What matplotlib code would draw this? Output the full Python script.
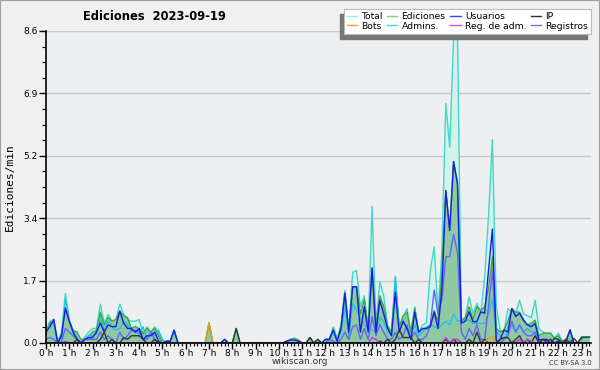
import matplotlib
matplotlib.use("Agg")
import matplotlib.pyplot as plt
from matplotlib.patches import Rectangle
from matplotlib.lines import Line2D
from matplotlib.ticker import MultipleLocator, FixedLocator
import numpy as np

# 10 minute steps, one row per hour
total = [
    0.35, 0.6, 0.65, 0.05, 0.3, 1.37,
    0.65, 0.35, 0.12, 0.0, 0.17, 0.3,
    0.4, 0.4, 1.07, 0.55, 0.79, 0.6,
    0.65, 1.07, 0.8, 0.65, 0.6, 0.6,
    0.65, 0.25, 0.45, 0.3, 0.45, 0.3,
    0.0, 0.05, 0.05, 0.36, 0.0, 0.0,
    0, 0, 0, 0, 0, 0,
    0.55, 0, 0, 0, 0.1, 0,
    0, 0.4, 0, 0, 0, 0,
    0, 0, 0, 0, 0, 0,
    0, 0, 0.05, 0.1, 0.13, 0.08,
    0, 0, 0.15, 0, 0.1, 0,
    0.1, 0.1, 0.45, 0.1, 0.5, 1.45,
    0.36, 1.95, 2.0, 1.0, 1.3, 0.4,
    3.77, 0.5, 1.69, 1.3, 0.5, 0.3,
    1.85, 0.45, 0.7, 0.95, 0.3, 1.0,
    0.3, 0.5, 0.55, 2.0, 2.65, 0.8,
    2.6, 6.6, 5.4, 8.4, 8.6, 0.65,
    0.7, 1.27, 0.8, 1.1, 0.8, 1.8,
    3.5, 5.6, 1.0, 0.36, 0.3, 0.95,
    0.85, 0.8, 1.18, 0.8, 0.75, 0.7,
    1.18, 0.4, 0.3, 0.27, 0.27, 0.13,
    0.27, 0.05, 0.1, 0.36, 0.0, 0.0,
    0.16, 0.16, 0.16,
]
ediciones = [
    0.3, 0.55, 0.6, 0.0, 0.25, 0.96,
    0.6, 0.35, 0.3, 0.1, 0.1, 0.2,
    0.3, 0.35, 0.85, 0.5, 0.7, 0.6,
    0.65, 0.88, 0.75, 0.7, 0.4, 0.45,
    0.4, 0.25, 0.4, 0.3, 0.4, 0.2,
    0.0, 0.05, 0.05, 0.35, 0.0, 0.0,
    0, 0, 0, 0, 0, 0,
    0.55, 0, 0, 0, 0.1, 0,
    0, 0.4, 0, 0, 0, 0,
    0, 0, 0, 0, 0, 0,
    0, 0, 0.05, 0.1, 0.13, 0.08,
    0, 0, 0.15, 0, 0.1, 0,
    0.1, 0.1, 0.4, 0.1, 0.45, 1.4,
    0.3, 1.55, 1.55, 0.8, 1.2, 0.35,
    2.07, 0.45, 1.3, 1.0, 0.45, 0.3,
    1.6, 0.45, 0.75, 0.85, 0.3, 0.95,
    0.3, 0.4, 0.4, 0.45, 0.9, 0.6,
    2.0, 4.2, 3.1, 5.0, 4.4, 0.6,
    0.7, 1.0, 0.65, 1.0, 0.9, 1.0,
    1.5, 2.38, 0.4, 0.3, 0.36, 0.6,
    0.95, 0.85, 0.85, 0.65, 0.5, 0.55,
    0.63, 0.2, 0.27, 0.27, 0.27, 0.13,
    0.2, 0.05, 0.1, 0.36, 0.0, 0.0,
    0.16, 0.16, 0.16,
]
usuarios = [
    0.3, 0.45, 0.65, 0.0, 0.2, 0.96,
    0.6, 0.3, 0.1, 0.0, 0.1, 0.15,
    0.15, 0.3, 0.55, 0.3, 0.5, 0.45,
    0.45, 0.88, 0.55, 0.4, 0.4, 0.3,
    0.4, 0.1, 0.2, 0.2, 0.3, 0.05,
    0.0, 0.05, 0.05, 0.35, 0.0, 0.0,
    0, 0, 0, 0, 0, 0,
    0, 0, 0, 0, 0.1, 0,
    0, 0, 0, 0, 0, 0,
    0, 0, 0, 0, 0, 0,
    0, 0, 0.05, 0.08, 0.08, 0.05,
    0, 0, 0, 0, 0, 0,
    0.1, 0.1, 0.35, 0.05, 0.4, 1.37,
    0.3, 1.55, 1.55, 0.3, 1.0, 0.3,
    2.07, 0.3, 1.18, 0.8, 0.4, 0.2,
    1.4, 0.3, 0.6, 0.4, 0.1, 0.85,
    0.3, 0.4, 0.4, 0.45, 0.85, 0.4,
    1.5, 4.2, 3.1, 5.0, 4.4, 0.55,
    0.6, 0.86, 0.59, 0.59, 0.86, 0.82,
    2.0, 3.14, 0.0, 0.1, 0.36, 0.3,
    0.95, 0.73, 0.82, 0.63, 0.5, 0.45,
    0.54, 0.08, 0.1, 0.05, 0.1, 0.0,
    0.05, 0.0, 0.05, 0.36, 0.0, 0.0,
    0, 0, 0,
]
ip = [
    0, 0, 0, 0, 0, 0,
    0, 0, 0.1, 0, 0, 0,
    0, 0, 0.1, 0.3, 0, 0.1,
    0, 0, 0.15, 0.1, 0.2, 0.2,
    0.2, 0.1, 0, 0, 0.1, 0,
    0, 0, 0, 0, 0, 0,
    0, 0, 0, 0, 0, 0,
    0, 0, 0, 0, 0, 0,
    0, 0.4, 0, 0, 0, 0,
    0, 0, 0, 0, 0, 0,
    0, 0, 0, 0, 0, 0,
    0, 0, 0.15, 0, 0.1, 0,
    0, 0, 0, 0, 0, 0,
    0, 0, 0, 0, 0, 0,
    0, 0, 0.05, 0, 0.1, 0,
    0.1, 0.36, 0.15, 0.15, 0.15, 0,
    0.1, 0, 0, 0, 0, 0,
    0, 0.1, 0, 0.1, 0, 0,
    0, 0.1, 0, 0.3, 0, 0.1,
    0, 0, 0, 0.1, 0.15, 0.15,
    0, 0.1, 0.2, 0, 0.1, 0,
    0.2, 0, 0.1, 0.1, 0, 0.13,
    0.1, 0, 0.1, 0, 0.13, 0,
    0.16, 0.16, 0.16,
]
bots = [
    0, 0, 0, 0, 0, 0,
    0, 0, 0, 0, 0, 0,
    0, 0, 0, 0, 0, 0,
    0, 0, 0, 0, 0, 0,
    0, 0, 0, 0, 0, 0,
    0, 0, 0, 0, 0, 0,
    0, 0, 0, 0, 0, 0,
    0.55, 0, 0, 0, 0, 0,
    0, 0, 0, 0, 0, 0,
    0, 0, 0, 0, 0, 0,
    0, 0, 0, 0, 0, 0,
    0, 0, 0, 0, 0, 0,
    0, 0, 0, 0, 0, 0,
    0, 0, 0, 0, 0, 0,
    0, 0, 0, 0, 0, 0,
    0, 0, 0, 0, 0, 0,
    0, 0, 0, 0, 0, 0,
    0, 0, 0, 0, 0, 0,
    0, 0, 0, 0, 0, 0,
    0.15, 0.15, 0, 0, 0, 0,
    0, 0, 0, 0, 0, 0,
    0, 0, 0, 0, 0, 0,
    0, 0, 0, 0, 0, 0,
    0, 0, 0,
]
admins = [
    0.3, 0.5, 0.55, 0.0, 0.2, 1.2,
    0.6, 0.3, 0.1, 0.0, 0.1, 0.2,
    0.2, 0.25, 0.7, 0.35, 0.6, 0.45,
    0.35, 0.4, 0.6, 0.5, 0.35, 0.3,
    0.25, 0.45, 0.1, 0.3, 0.2, 0.35,
    0.1, 0.0, 0.05, 0.35, 0.0, 0.0,
    0, 0, 0, 0, 0, 0,
    0, 0, 0, 0, 0, 0,
    0, 0, 0, 0, 0, 0,
    0, 0, 0, 0, 0, 0,
    0, 0, 0, 0, 0, 0,
    0, 0, 0, 0, 0, 0,
    0, 0, 0.4, 0.1, 0.3, 1.0,
    0.2, 1.09, 0.9, 0.7, 0.5, 0.4,
    0.36, 0.3, 0.7, 0.6, 0.3, 0.2,
    1.8, 0.3, 0.6, 0.4, 0.3, 0.5,
    0.2, 0.3, 0.45, 0.5, 0.45, 0.4,
    0.5, 0.6, 0.5, 0.8, 0.6, 0.63,
    0.63, 0.63, 0.54, 0.54, 0.54, 0.54,
    0.8, 1.2, 0.3, 0.2, 0.1, 0.3,
    0.5, 0.3, 0.5, 0.3, 0.4, 0.3,
    0.3, 0.1, 0.0, 0.0, 0.0, 0.0,
    0.1, 0, 0, 0.1, 0, 0,
    0.1, 0.16, 0.16,
]
reg_adm = [
    0, 0, 0, 0, 0, 0.05,
    0, 0, 0, 0, 0, 0,
    0, 0, 0, 0, 0, 0,
    0, 0, 0, 0, 0, 0,
    0, 0, 0, 0, 0, 0,
    0, 0, 0, 0, 0, 0,
    0, 0, 0, 0, 0, 0,
    0, 0, 0, 0, 0, 0,
    0, 0, 0, 0, 0, 0,
    0, 0, 0, 0, 0, 0,
    0, 0, 0, 0, 0, 0,
    0, 0, 0, 0, 0, 0,
    0, 0, 0, 0, 0, 0,
    0, 0, 0, 0, 0, 0,
    0.15, 0.1, 0, 0, 0, 0,
    0, 0, 0, 0, 0, 0,
    0, 0, 0, 0, 0, 0,
    0, 0.15, 0, 0.1, 0.1, 0,
    0, 0, 0, 0, 0, 0,
    0, 0, 0, 0, 0, 0,
    0, 0, 0.1, 0, 0.1, 0.05,
    0, 0, 0, 0, 0, 0,
    0, 0, 0, 0, 0, 0,
    0, 0, 0,
]
registros = [
    0.1, 0.15, 0.1, 0.0, 0.05, 0.4,
    0.3, 0.2, 0.1, 0.0, 0.1, 0.1,
    0.1, 0.1, 0.3, 0.1, 0.2, 0.1,
    0.0, 0.3, 0.1, 0.2, 0.35, 0.35,
    0.3, 0.1, 0.1, 0.3, 0.1, 0.0,
    0, 0, 0, 0, 0, 0,
    0, 0, 0, 0, 0, 0,
    0, 0, 0, 0, 0, 0,
    0, 0, 0, 0, 0, 0,
    0, 0, 0, 0, 0, 0,
    0, 0, 0, 0, 0, 0,
    0, 0, 0, 0, 0, 0,
    0, 0.1, 0.05, 0.0, 0.1, 0.3,
    0.1, 0.45, 0.5, 0.1, 0.4, 0.1,
    0.72, 0.2, 0.5, 0.3, 0.1, 0.1,
    0.3, 0.1, 0.2, 0.5, 0.1, 0.3,
    0.1, 0.1, 0.2, 0.5, 1.46, 0.8,
    1.2, 2.38, 2.38, 3.0, 2.5, 0.3,
    0.1, 0.4, 0.2, 0.5, 0.1, 0.1,
    1.0, 2.0, 0.1, 0.0, 0.1, 0.2,
    0.6, 0.3, 0.5, 0.3, 0.2, 0.2,
    0.3, 0.0, 0.1, 0.0, 0.0, 0.0,
    0, 0, 0, 0, 0, 0,
    0, 0, 0,
]

hour_labels = [f"{h} h" for h in range(24)]
y_ticks = [0.0, 1.72, 3.44, 5.16, 6.88, 8.6]
y_labels = ["0.0", "1.7", "3.4", "5.2", "6.9", "8.6"]

t = np.arange(len(total)) / 6.0

fig = plt.figure(figsize=(6, 3.7), dpi=100, facecolor="#f0f0f0")
fig.patches.append(Rectangle((0, 0), 1, 1, transform=fig.transFigure,
                             fill=False, edgecolor="#a0a0a0", lw=1.5))
ax = fig.add_axes([46 / 600, 27 / 370, 545 / 600, 312 / 370])
ax.set_facecolor("#eeeff1")

ax.fill_between(t, total, color="#d2f2ea", lw=0)
ax.fill_between(t, ediciones, color="#82c294", alpha=0.85, lw=0)

lw = 1.0
ax.plot(t, total, color="#40d8c8", lw=lw)
ax.plot(t, ediciones, color="#3caa3c", lw=lw)
ax.plot(t, admins, color="#22c0e8", lw=lw)
ax.plot(t, registros, color="#6464ff", lw=lw)
ax.plot(t, usuarios, color="#1a1ae6", lw=lw)
ax.plot(t, ip, color="#333333", lw=lw)
ax.plot(t, bots, color="#f09a10", lw=lw)
ax.plot(t, reg_adm, color="#cc33ee", lw=lw)

ax.set_xlim(0, 23.4)
ax.set_ylim(0, 8.6)
ax.xaxis.set_major_locator(FixedLocator(range(24)))
ax.set_xticklabels(hour_labels, fontsize=6.5)
ax.xaxis.set_minor_locator(MultipleLocator(1 / 6))
ax.set_yticks(y_ticks)
ax.set_yticklabels(y_labels, fontsize=6.5)
ax.yaxis.set_minor_locator(MultipleLocator(0.43))
ax.tick_params(axis="x", which="major", length=4, width=1, pad=0.5)
ax.tick_params(axis="x", which="minor", length=2.5, width=0.8)
ax.tick_params(axis="y", which="major", length=5, width=1, pad=1)
ax.tick_params(axis="y", which="minor", length=3, width=0.8)
ax.grid(axis="y", color="#c8c8c8", lw=1)
ax.set_axisbelow(True)
for s in ["top", "right"]:
    ax.spines[s].set_visible(False)
for s in ["left", "bottom"]:
    ax.spines[s].set_linewidth(1.2)

ax.set_ylabel("Ediciones/min", fontsize=8, family="DejaVu Sans Mono", labelpad=6)
fig.text(154 / 600, 1 - 17 / 370, "Ediciones  2023-09-19", ha="center", va="center",
         fontsize=8.3, fontweight="bold")
fig.text(300 / 600, 1 - 362 / 370, "wikiscan.org", ha="center", va="center",
         fontsize=6.5, color="#333333")
fig.text(592 / 600, 1 - 363 / 370, "CC BY-SA 3.0", ha="right", va="center",
         fontsize=4.8, color="#333333")

order = ["Total", "Bots", "Ediciones", "Admins.", "Usuarios", "Reg. de adm.", "IP", "Registros"]
leg_colors = {"Total": "#a0ecec", "Ediciones": "#77d077", "Usuarios": "#4040ff", "IP": "#333333",
              "Bots": "#ffa020", "Admins.": "#40d8f0", "Reg. de adm.": "#dd44ff", "Registros": "#7070ff"}
leg_handles = [Line2D([], [], color=leg_colors[k], lw=1) for k in order]
leg = fig.legend(leg_handles, order, ncol=4, loc="upper right",
                 bbox_to_anchor=(591 / 600, 1 - 9 / 370), fontsize=6.7,
                 frameon=True, fancybox=False, edgecolor="#bbbbbb", framealpha=1,
                 handlelength=1.1, handletextpad=0.45, columnspacing=0.5,
                 labelspacing=0.1, borderpad=0.3, borderaxespad=0)
leg.get_frame().set_linewidth(0.8)
leg.set_zorder(10)

# grey drop shadow down-left of the legend box
fig.canvas.draw()
bb = leg.get_window_extent().transformed(fig.transFigure.inverted())
fig.patches.append(Rectangle((bb.x0 - 4 / 600, bb.y0 - 5 / 370), bb.width, bb.height,
                             transform=fig.transFigure, color="#777777", zorder=5))

fig.savefig("out.png", dpi=100, facecolor=fig.get_facecolor())
